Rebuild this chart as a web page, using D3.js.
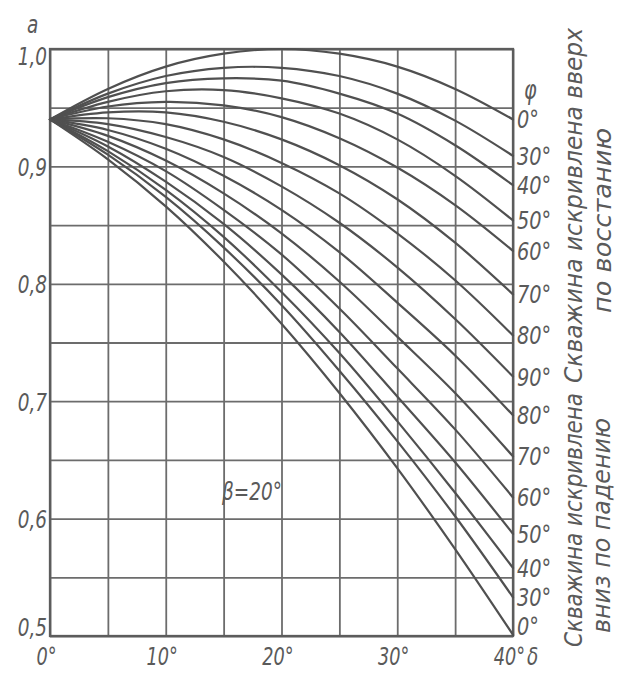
<!DOCTYPE html>
<html>
<head>
<meta charset="utf-8">
<script src="https://cdn.jsdelivr.net/npm/d3@7"></script>
<style>
  html, body { margin: 0; padding: 0; background: #fff; }
  svg { display: block; }
  .lbl { font-family: "DejaVu Sans Condensed", "DejaVu Sans", sans-serif; font-style: italic; fill: #5a5a5a; }
</style>
</head>
<body>
<svg id="chart" width="630" height="678"></svg>
<script>
// ---- data ----
const delta = [0, 5, 10, 15, 20, 25, 30, 35, 40];

// well bent upward (по восстанию), labelled by φ
const up0  = [0.940, 0.966, 0.985, 0.996, 1.000, 0.996, 0.985, 0.966, 0.940];
const up30 = [0.940, 0.962, 0.977, 0.984, 0.984, 0.977, 0.962, 0.939, 0.909];
const up40 = [0.940, 0.959, 0.971, 0.975, 0.973, 0.962, 0.945, 0.918, 0.884];
const up50 = [0.940, 0.955, 0.964, 0.965, 0.958, 0.945, 0.923, 0.892, 0.854];
const up60 = [0.940, 0.951, 0.955, 0.952, 0.942, 0.924, 0.899, 0.867, 0.828];
const up70 = [0.940, 0.946, 0.946, 0.938, 0.923, 0.901, 0.872, 0.835, 0.791];
const up80 = [0.940, 0.941, 0.936, 0.923, 0.903, 0.877, 0.843, 0.803, 0.756];
const mid90 = [0.940, 0.936, 0.925, 0.908, 0.883, 0.852, 0.814, 0.770, 0.721];
// well bent downward (по падению)
const dn80 = [0.940, 0.931, 0.915, 0.892, 0.863, 0.827, 0.784, 0.739, 0.688];
const dn70 = [0.940, 0.926, 0.905, 0.877, 0.843, 0.802, 0.755, 0.707, 0.653];
const dn60 = [0.940, 0.921, 0.896, 0.863, 0.825, 0.779, 0.728, 0.676, 0.618];
const dn50 = [0.940, 0.917, 0.887, 0.851, 0.808, 0.759, 0.704, 0.648, 0.587];
const dn40 = [0.940, 0.913, 0.880, 0.840, 0.793, 0.741, 0.683, 0.622, 0.558];
const dn30 = [0.940, 0.910, 0.874, 0.831, 0.782, 0.726, 0.666, 0.602, 0.533];
const dn0  = [0.940, 0.906, 0.866, 0.819, 0.766, 0.707, 0.643, 0.574, 0.501];

const seriesValues = [up0, up30, up40, up50, up60, up70, up80, mid90, dn80, dn70, dn60, dn50, dn40, dn30, dn0];
const seriesLabels = ["0°", "30°", "40°", "50°", "60°", "70°", "80°", "90°", "80°", "70°", "60°", "50°", "40°", "30°", "0°"];

const xGrid = [0, 5, 10, 15, 20, 25, 30, 35, 40];
const xTicks = [0, 10, 20, 30, 40];
const xTickLabels = ["0°", "10°", "20°", "30°", "40°"];
const yGrid = [0.5, 0.55, 0.6, 0.65, 0.7, 0.75, 0.8, 0.85, 0.9, 0.95, 1.0];
const yTicks = [0.5, 0.6, 0.7, 0.8, 0.9, 1.0];
const yTickLabels = ["0,5", "0,6", "0,7", "0,8", "0,9", "1,0"];

// ---- drawing ----
const svg = d3.select("#chart");
const L = 50, R = 513, T = 49, B = 636;
const x = d3.scaleLinear().domain([0, 40]).range([L, R]);
const y = d3.scaleLinear().domain([0.5, 1.0]).range([B, T]);
const ink = "#505050";
const SX = 0.82;

// grid
const gx = svg.append("g").attr("transform", `translate(0,${B})`)
  .call(d3.axisBottom(x).tickValues(xGrid).tickSize(-(B - T)).tickFormat(""));
gx.select(".domain").remove();
gx.selectAll("line").attr("stroke", "#6c6c6c").attr("stroke-width", 1.8);

const gy = svg.append("g").attr("transform", `translate(${L},0)`)
  .call(d3.axisLeft(y).tickValues(yGrid).tickSize(-(R - L)).tickFormat(""));
gy.select(".domain").remove();
gy.selectAll("line").attr("stroke", "#6c6c6c").attr("stroke-width", 1.8);

// frame
svg.append("rect").attr("x", L).attr("y", T).attr("width", R - L).attr("height", B - T)
  .attr("fill", "none").attr("stroke", "#5c5c5c").attr("stroke-width", 2.3);

// curves
const line = d3.line().x((d, i) => x(delta[i])).y(d => y(d)).curve(d3.curveCatmullRom.alpha(0.5));
svg.append("g").selectAll("path").data(seriesValues).join("path")
  .attr("d", d => line(d)).attr("fill", "none")
  .attr("stroke", ink).attr("stroke-width", 2.2).attr("stroke-linecap", "round");

// tick labels, left
const ly = svg.append("g").attr("transform", `translate(${L - 3},0)`)
  .call(d3.axisLeft(y).tickValues(yTicks).tickSize(0).tickPadding(0)
    .tickFormat((d, i) => yTickLabels[i]));
ly.select(".domain").remove();
ly.selectAll("text").attr("class", "lbl").attr("font-size", 25).attr("font-family", null)
  .attr("dy", "0.36em")
  .attr("transform", (d) => (d === 1.0 ? "translate(0,6) " : d === 0.5 ? "translate(0,-10) " : "") + `scale(${SX},1)`);

// tick labels, bottom
const lx = svg.append("g").attr("transform", `translate(-4,${B})`)
  .call(d3.axisBottom(x).tickValues(xTicks).tickSize(0).tickPadding(12)
    .tickFormat((d, i) => xTickLabels[i]));
lx.select(".domain").remove();
lx.selectAll("text").attr("class", "lbl").attr("font-size", 24).attr("font-family", null)
  .attr("dy", "0.71em").attr("transform", `scale(${SX},1)`);

function label(px, py, size, txt) {
  svg.append("text").attr("class", "lbl").attr("font-size", size)
    .attr("transform", `translate(${px},${py}) scale(${SX},1)`).text(txt);
}
label(527, 665, 25, "δ");
label(27, 33, 25, "a");
label(524, 99, 26, "φ");
label(222, 500, 25, "β=20°");

// right-hand φ labels at the curve ends, nudged apart where crowded
const labelY = seriesValues.map(d => y(d[d.length - 1]));
for (let i = 1; i < labelY.length; i++) labelY[i] = Math.max(labelY[i], labelY[i - 1] + 29);
labelY[labelY.length - 1] = Math.min(labelY[labelY.length - 1], B - 10);
for (let i = labelY.length - 2; i >= 0; i--) labelY[i] = Math.min(labelY[i], labelY[i + 1] - 29);

svg.append("g").selectAll("text").data(seriesValues).join("text")
  .attr("class", "lbl").attr("font-size", 25)
  .attr("transform", (d, i) => `translate(${R + 4},${labelY[i] + 9}) scale(0.86,1)`)
  .text((d, i) => seriesLabels[i]);

// rotated captions
function vtext(xb, ystart, len, txt) {
  svg.append("text").attr("class", "lbl").attr("font-size", 25)
    .attr("transform", `translate(${xb},${ystart}) rotate(-90)`)
    .attr("textLength", len).attr("lengthAdjust", "spacingAndGlyphs")
    .text(txt);
}
vtext(582, 383, 355, "Скважина искривлена вверх");
vtext(611, 313, 185, "по восстанию");
vtext(582, 647, 254, "Скважина искривлена");
vtext(610, 633, 215, "вниз по падению");
</script>
</body>
</html>
